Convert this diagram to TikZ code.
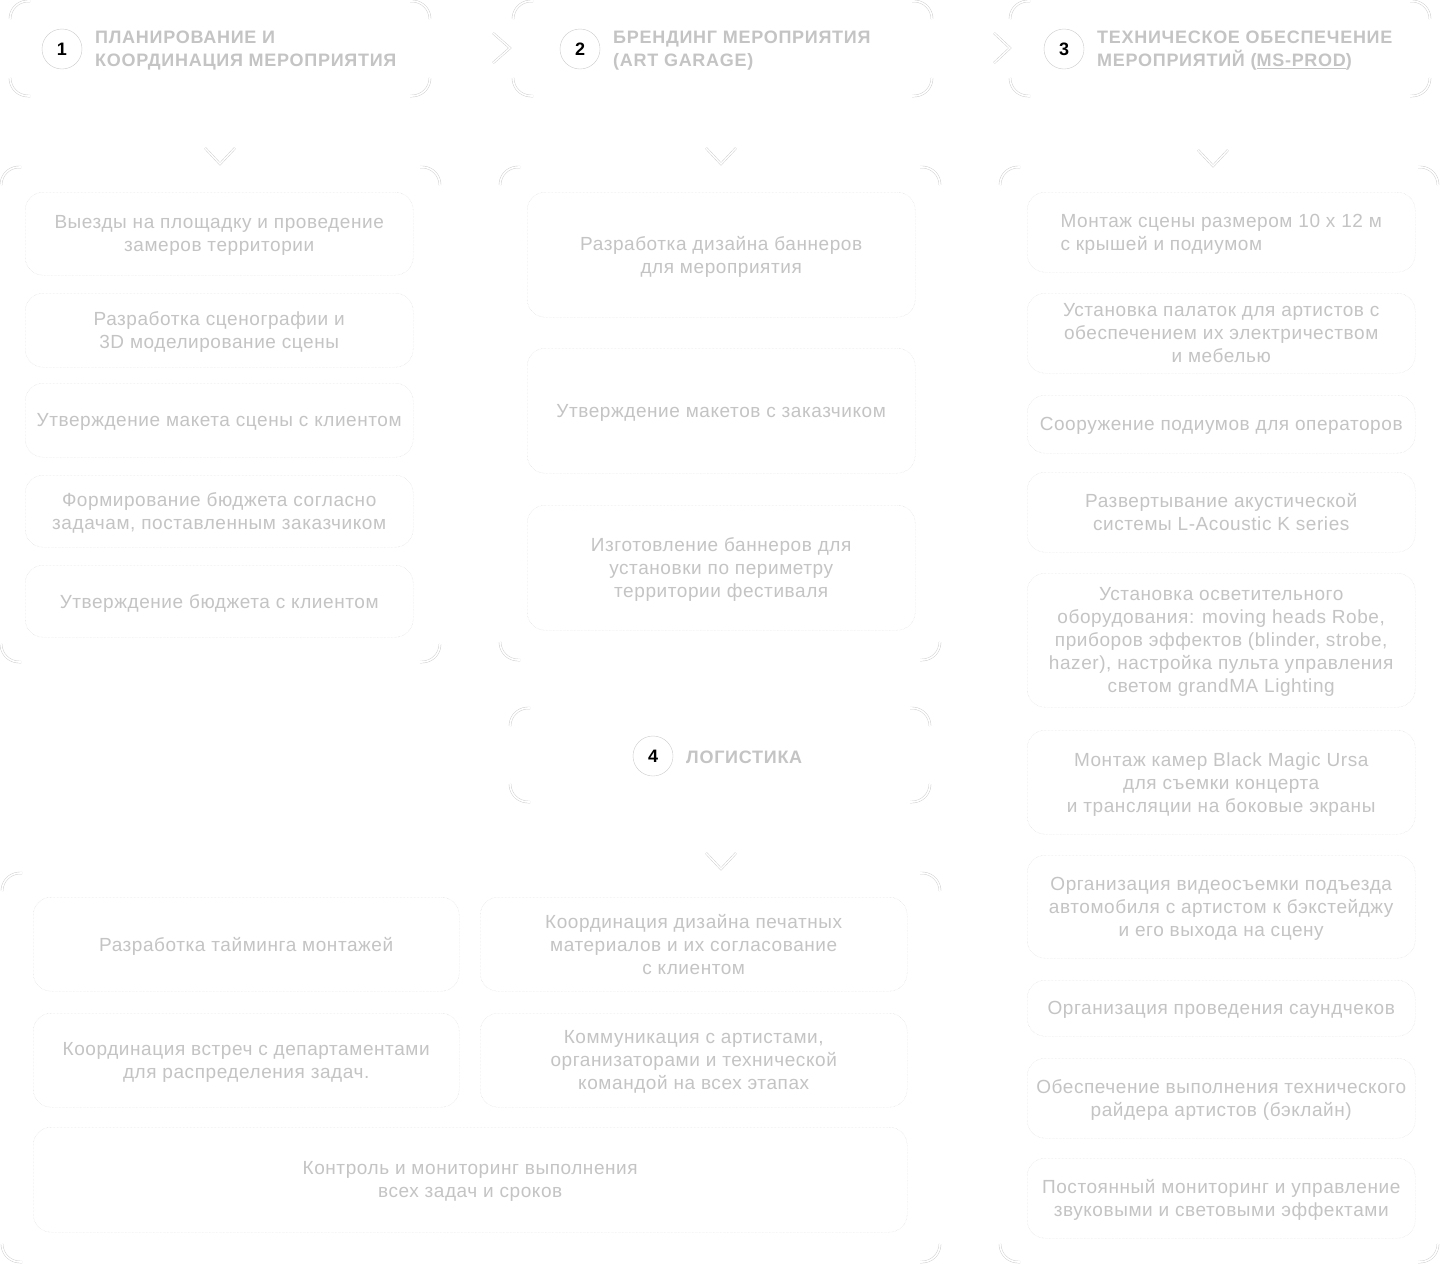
\documentclass[tikz,border=0pt]{standalone}
\usepackage{fontspec}
\setmainfont[LetterSpace=3]{Liberation Sans}
\usepackage{tikz}
\usetikzlibrary{positioning,calc}

\definecolor{linegray}{gray}{0.80}
\definecolor{dotgray}{gray}{0.84}
\definecolor{txtgray}{gray}{0.77}

% corner brackets of a frame: x1,y1,x2,y2
\newcommand{\bracketframe}[4]{%
  \draw[corner] (#1,#2+18) [rounded corners=18pt] |- (#1+20,#2);
  \draw[corner] (#3-20,#2) [rounded corners=18pt] -| (#3,#2+18);
  \draw[corner] (#1,#4-18) [rounded corners=18pt] |- (#1+20,#4);
  \draw[corner] (#3-20,#4) [rounded corners=18pt] -| (#3,#4-18);
}

\begin{document}
\begin{tikzpicture}[x=1pt,y=-1pt,
    corner/.style={draw=linegray, double=white, double distance=1.6pt, line width=0.45pt},
    chev/.style={draw=linegray, double=white, double distance=1.4pt, line width=0.45pt},
    task/.style={draw=dotgray, densely dotted, rounded corners=18pt, anchor=north west,
      align=center, text=txtgray, font=\fontsize{19}{23}\selectfont, inner sep=0pt,
      text depth=0pt},
    stepnum/.style={circle, draw=linegray, minimum size=40pt, inner sep=0pt,
      font=\bfseries\fontsize{18}{22}\selectfont, text=black},
    headtxt/.style={anchor=west, align=left, text=txtgray, inner sep=0pt,
      font=\bfseries\fontsize{18}{23}\selectfont\addfontfeatures{LetterSpace=4}}]

    \fill[white] (0,0) rectangle (1440,1264);
    \useasboundingbox (0,0) rectangle (1440,1264);

    %frames
    \bracketframe{10}{1}{430}{96}
    \bracketframe{513}{1}{932}{96}
    \bracketframe{1010}{1}{1430}{96}
    \bracketframe{1}{167}{440}{662}
    \bracketframe{500}{167}{940}{660}
    \bracketframe{1000}{167}{1438}{1262}
    \bracketframe{510}{708}{930}{802}
    \bracketframe{2}{873}{940}{1262}

    %chevrons
    \draw[chev] (493,33) -- (510,48) -- (493,63);
    \draw[chev] (994,33) -- (1010,48) -- (994,63);
    \draw[chev] (205,148) -- (220,164) -- (235,148);
    \draw[chev] (706,148) -- (721,164) -- (736,148);
    \draw[chev] (1198,150) -- (1213,166) -- (1228,150);
    \draw[chev] (706,853) -- (721,869) -- (736,853);

    %headers
    \node[stepnum] (n1) at (62,49) {1};
    \node[headtxt] (h1) at (95,51) {ПЛАНИРОВАНИЕ И\\КООРДИНАЦИЯ МЕРОПРИЯТИЯ};
    \node[stepnum] (n2) at (580,49) {2};
    \node[headtxt] (h2) at (613,51) {БРЕНДИНГ МЕРОПРИЯТИЯ\\(ART GARAGE)};
    \node[stepnum] (n3) at (1064,49) {3};
    \node[headtxt] (h3) at (1097,51) {ТЕХНИЧЕСКОЕ ОБЕСПЕЧЕНИЕ\\МЕРОПРИЯТИЙ (\underline{MS-PROD})};
    \node[stepnum] (n4) at (653,756) {4};
    \node[headtxt] (h4) at (686,757) {ЛОГИСТИКА};

    %planning
    \node[task, minimum width=388pt, minimum height=83pt] (plan1) at (25,192) {Выезды на площадку и проведение\\замеров территории};
    \node[task, minimum width=388pt, minimum height=74pt] (plan2) at (25,293) {Разработка сценографии и\\3D моделирование сцены};
    \node[task, minimum width=388pt, minimum height=74pt] (plan3) at (25,383) {Утверждение макета сцены с клиентом};
    \node[task, minimum width=388pt, minimum height=72pt] (plan4) at (25,475) {Формирование бюджета согласно\\задачам, поставленным заказчиком};
    \node[task, minimum width=388pt, minimum height=72pt] (plan5) at (25,565) {Утверждение бюджета с клиентом};

    %branding
    \node[task, minimum width=388pt, minimum height=125pt] (brand1) at (527,192) {Разработка дизайна баннеров\\для мероприятия};
    \node[task, minimum width=388pt, minimum height=125pt] (brand2) at (527,348) {Утверждение макетов с заказчиком};
    \node[task, minimum width=388pt, minimum height=125pt] (brand3) at (527,505) {Изготовление баннеров для\\установки по периметру\\территории фестиваля};

    %technical
    \node[task, minimum width=388pt, minimum height=80pt, align=left] (tech1) at (1027,192) {Монтаж сцены размером 10 x 12 м\\с крышей и подиумом};
    \node[task, minimum width=388pt, minimum height=80pt] (tech2) at (1027,293) {Установка палаток для артистов с\\обеспечением их электричеством\\и мебелью};
    \node[task, minimum width=388pt, minimum height=58pt] (tech3) at (1027,395) {Сооружение подиумов для операторов};
    \node[task, minimum width=388pt, minimum height=80pt] (tech4) at (1027,472) {Развертывание акустической\\системы L-Acoustic K series};
    \node[task, minimum width=388pt, minimum height=134pt] (tech5) at (1027,573) {Установка осветительного\\оборудования: moving heads Robe,\\приборов эффектов (blinder, strobe,\\hazer), настройка пульта управления\\светом grandMA Lighting};
    \node[task, minimum width=388pt, minimum height=104pt] (tech6) at (1027,730) {Монтаж камер Black Magic Ursa\\для съемки концерта\\и трансляции на боковые экраны};
    \node[task, minimum width=388pt, minimum height=103pt] (tech7) at (1027,855) {Организация видеосъемки подъезда\\автомобиля с артистом к бэкстейджу\\и его выхода на сцену};
    \node[task, minimum width=388pt, minimum height=56pt] (tech8) at (1027,980) {Организация проведения саундчеков};
    \node[task, minimum width=388pt, minimum height=80pt] (tech9) at (1027,1058) {Обеспечение выполнения технического\\райдера артистов (бэклайн)};
    \node[task, minimum width=388pt, minimum height=80pt] (tech10) at (1027,1158) {Постоянный мониторинг и управление\\звуковыми и световыми эффектами};

    %logistics
    \node[task, minimum width=426pt, minimum height=94pt] (log1) at (33,897) {Разработка тайминга монтажей};
    \node[task, minimum width=427pt, minimum height=94pt] (log2) at (480,897) {Координация дизайна печатных\\материалов и их согласование\\с клиентом};
    \node[task, minimum width=426pt, minimum height=94pt] (log3) at (33,1013) {Координация встреч с департаментами\\для распределения задач.};
    \node[task, minimum width=427pt, minimum height=94pt] (log4) at (480,1013) {Коммуникация с артистами,\\организаторами и технической\\командой на всех этапах};
    \node[task, minimum width=874pt, minimum height=105pt] (log5) at (33,1127) {Контроль и мониторинг выполнения\\всех задач и сроков};
  \end{tikzpicture}
\end{document}
